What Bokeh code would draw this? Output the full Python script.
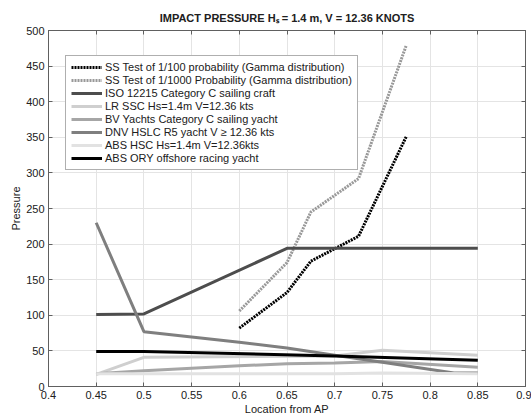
from bokeh.plotting import figure
from bokeh.models import (FixedTicker, CustomJSTickFormatter, Legend, LegendItem,
                          LinearAxis, Range1d)
from bokeh.embed import file_html
from bokeh.resources import INLINE

title_text = "IMPACT PRESSURE H\u209b = 1.4 m, V = 12.36 KNOTS"
x_ticks = [0.4, 0.45, 0.5, 0.55, 0.6, 0.65, 0.7, 0.75, 0.8, 0.85, 0.9]
y_ticks = [0, 50, 100, 150, 200, 250, 300, 350, 400, 450, 500]

ss100_x = [0.6, 0.65, 0.675, 0.725, 0.775]
ss100_y = [82, 132, 176, 211, 351]
ss1000_x = [0.6, 0.65, 0.675, 0.725, 0.775]
ss1000_y = [106, 174, 245, 292, 479]
iso_x = [0.45, 0.5, 0.65, 0.85]
iso_y = [101, 102, 194, 194]
lr_x = [0.45, 0.5, 0.7, 0.75, 0.85]
lr_y = [17, 41, 43, 51, 44]
bv_x = [0.45, 0.5, 0.6, 0.65, 0.7, 0.75, 0.85]
bv_y = [18, 22, 29, 32, 33, 35, 27]
dnv_x = [0.45, 0.5, 0.6, 0.65, 0.7, 0.75, 0.825, 0.85]
dnv_y = [230, 77, 62, 54, 44, 34, 19, 19]
abshsc_x = [0.45, 0.5, 0.7, 0.75, 0.85]
abshsc_y = [18, 18, 18, 19, 18]
ory_x = [0.45, 0.5, 0.7, 0.85]
ory_y = [49, 49, 43, 37]

labels = [
    "SS Test of 1/100 probability (Gamma distribution)",
    "SS Test of 1/1000 Probability (Gamma distribution)",
    "ISO 12215 Category C sailing craft",
    "LR SSC Hs=1.4m V=12.36 kts",
    "BV Yachts Category C sailing yacht",
    "DNV HSLC R5 yacht V \u2265 12.36 kts",
    "ABS HSC Hs=1.4m V=12.36kts",
    "ABS ORY offshore racing yacht",
]

FONT = "Liberation Sans"

p = figure(width=531, height=417, output_backend="svg", toolbar_location=None,
           x_range=Range1d(0.4, 0.9), y_range=Range1d(0, 500),
           min_border_left=48, min_border_right=6, min_border_top=30, min_border_bottom=27,
           title=title_text)
p.title.align = "center"
p.title.text_font = FONT
p.title.text_font_size = "11px"
p.title.text_font_style = "bold"
p.title.text_color = "#202020"
p.title.vertical_align = "top"
p.title.offset = -6
p.title.standoff = 10

p.background_fill_color = "white"
p.border_fill_color = "white"
p.outline_line_color = "#606060"
p.outline_line_width = 1

xfmt = CustomJSTickFormatter(code="return String(Math.round(tick*100)/100)")
for ax in p.xaxis:
    ax.ticker = FixedTicker(ticks=x_ticks)
    ax.formatter = xfmt
    ax.axis_label = "Location from AP"
for ax in p.yaxis:
    ax.ticker = FixedTicker(ticks=y_ticks)
    ax.axis_label = "Pressure"
for ax in list(p.xaxis) + list(p.yaxis):
    ax.major_tick_in = 4
    ax.major_tick_out = 0
    ax.minor_tick_line_color = None
    ax.axis_line_color = "#606060"
    ax.major_tick_line_color = "#606060"
    ax.major_label_text_font = FONT
    ax.major_label_text_font_size = "11px"
    ax.major_label_text_color = "#202020"
    ax.axis_label_text_font = FONT
    ax.axis_label_text_font_size = "11px"
    ax.axis_label_text_font_style = "normal"
    ax.axis_label_text_color = "#202020"
    ax.major_label_standoff = 4
    ax.axis_label_standoff = 1

blank = CustomJSTickFormatter(code="return ''")
top = LinearAxis(ticker=FixedTicker(ticks=x_ticks), formatter=blank,
                 major_tick_in=4, major_tick_out=0, minor_tick_line_color=None,
                 axis_line_color="#606060", major_tick_line_color="#606060",
                 major_label_standoff=0)
right = LinearAxis(ticker=FixedTicker(ticks=y_ticks), formatter=blank,
                   major_tick_in=4, major_tick_out=0, minor_tick_line_color=None,
                   axis_line_color="#606060", major_tick_line_color="#606060",
                   major_label_standoff=0)
p.add_layout(top, "above")
p.add_layout(right, "right")

p.xgrid.grid_line_color = "#e4e4e4"
p.ygrid.grid_line_color = "#e4e4e4"
p.xgrid.ticker = FixedTicker(ticks=x_ticks)
p.ygrid.ticker = FixedTicker(ticks=y_ticks)

r_ss100 = p.line(ss100_x, ss100_y, line_color="black", line_width=3, line_dash="2 1")
r_ss1000 = p.line(ss1000_x, ss1000_y, line_color="#999999", line_width=3, line_dash="2 1")
r_iso = p.line(iso_x, iso_y, line_color="#4d4d4d", line_width=3)
r_lr = p.line(lr_x, lr_y, line_color="#cfcfcf", line_width=3)
r_bv = p.line(bv_x, bv_y, line_color="#a6a6a6", line_width=3)
r_dnv = p.line(dnv_x, dnv_y, line_color="#7f7f7f", line_width=3)
r_abshsc = p.line(abshsc_x, abshsc_y, line_color="#e2e2e2", line_width=3)
r_ory = p.line(ory_x, ory_y, line_color="black", line_width=3)

renderers = [r_ss100, r_ss1000, r_iso, r_lr, r_bv, r_dnv, r_abshsc, r_ory]
items = [LegendItem(label=l, renderers=[r]) for l, r in zip(labels, renderers)]
legend = Legend(items=items, location=(17, 216))
legend.label_text_font = FONT
legend.label_text_font_size = "11px"
legend.label_text_color = "#202020"
legend.label_height = 12
legend.glyph_height = 12
legend.glyph_width = 31
legend.label_standoff = 3
legend.spacing = 1
legend.padding = 5
legend.margin = 0
legend.border_line_color = "#606060"
legend.border_line_width = 1
legend.background_fill_alpha = 1
p.add_layout(legend, "center")

open("out.html", "w").write(file_html(p, INLINE))
